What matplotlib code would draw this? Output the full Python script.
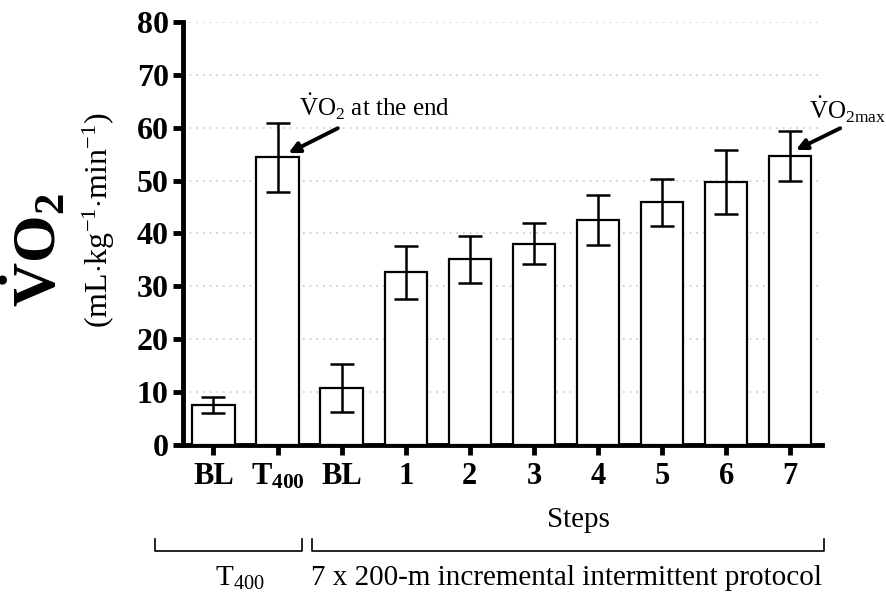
import numpy as np
import matplotlib.pyplot as plt
from matplotlib.lines import Line2D

plt.rcParams['font.family'] = ['Liberation Serif', 'DejaVu Serif']
plt.rcParams['mathtext.fontset'] = 'custom'
plt.rcParams['mathtext.rm'] = 'Liberation Serif'
plt.rcParams['mathtext.it'] = 'Liberation Serif:italic'
plt.rcParams['mathtext.bf'] = 'Liberation Serif:bold'

# data
labels = ["BL", r"$\mathbf{T_{400}}$", "BL", "1", "2", "3", "4", "5", "6", "7"]
vo2_mean = [7.6, 54.4, 10.8, 32.7, 35.1, 38.1, 42.6, 45.9, 49.7, 54.6]
vo2_sd = [1.5, 6.5, 4.6, 5.0, 4.4, 3.8, 4.7, 4.4, 6.0, 4.7]

fig = plt.figure(figsize=(8.87, 5.93), dpi=100)
ax = fig.add_axes([0.206, 0.2496, 0.721, 0.7134])

x = np.arange(len(labels))
ax.bar(x, vo2_mean, width=0.66, color='white', edgecolor='black', linewidth=1.6,
       yerr=vo2_sd, capsize=8.5, error_kw=dict(elinewidth=1.8, capthick=1.8),
       zorder=3)

ax.set_xlim(-0.48, 9.5)
ax.set_ylim(0, 80)
ax.set_yticks(np.arange(0, 81, 10))
ax.set_xticks(x)
ax.set_xticklabels(labels, fontsize=22, fontweight='bold')
for t in ax.get_yticklabels():
    t.set_fontsize(23)
    t.set_fontweight('bold')
ax.yaxis.grid(True, color='#c8c8c8', linestyle=(0, (1, 3)), linewidth=1.2, zorder=0)
ax.set_axisbelow(True)

for s in ['top', 'right']:
    ax.spines[s].set_visible(False)
for s in ['left', 'bottom']:
    ax.spines[s].set_linewidth(3.5)
ax.tick_params(axis='both', length=7, width=3.5, pad=3)
ax.tick_params(axis='x', pad=5)

# y label (two lines)
fig.text(0.040, 1 - 250 / 593, r"$\mathbf{\dot{V}O_2}$", rotation=90, fontsize=44,
         ha='center', va='center')
fig.text(0.112, 1 - 220 / 593, r"(mL$\cdot$kg$^{-1}$$\cdot$min$^{-1}$)", rotation=90,
         fontsize=23, ha='center', va='center')

# annotations
arrow = dict(arrowstyle='-|>', color='black', lw=2.8, mutation_scale=16,
             shrinkA=0, shrinkB=0)
ax.annotate("", xy=(1.17, 55.2), xytext=(1.94, 59.9), arrowprops=arrow)
ax.text(1.34, 61.0, r"$\dot{\mathrm{V}}\mathrm{O}_2$ at the end", fontsize=18,
        ha='left', va='bottom')
ax.annotate("", xy=(9.09, 55.8), xytext=(9.78, 59.9), arrowprops=arrow,
            annotation_clip=False)
ax.text(9.9, 60.5, r"$\dot{\mathrm{V}}\mathrm{O}_{2\mathrm{max}}$", fontsize=18,
        ha='center', va='bottom', clip_on=False)

# lower labels and brackets
fig.text(578 / 887, 1 - 520 / 593, "Steps", fontsize=21, ha='center', va='center')

def bracket(x0, x1, y, h):
    xs = [x0 / 887, x0 / 887, x1 / 887, x1 / 887]
    ys = [1 - (y - h) / 593, 1 - y / 593, 1 - y / 593, 1 - (y - h) / 593]
    fig.add_artist(Line2D(xs, ys, color='black', lw=1.2))

bracket(155, 302, 551, 12)
bracket(312, 824, 551, 12)
fig.text(240 / 887, 1 - 578 / 593, r"T$_{400}$", fontsize=21, ha='center', va='center')
fig.text(567 / 887, 1 - 578 / 593, "7 x 200-m incremental intermittent protocol",
         fontsize=21, ha='center', va='center')

fig.savefig("out.png", dpi=100)
